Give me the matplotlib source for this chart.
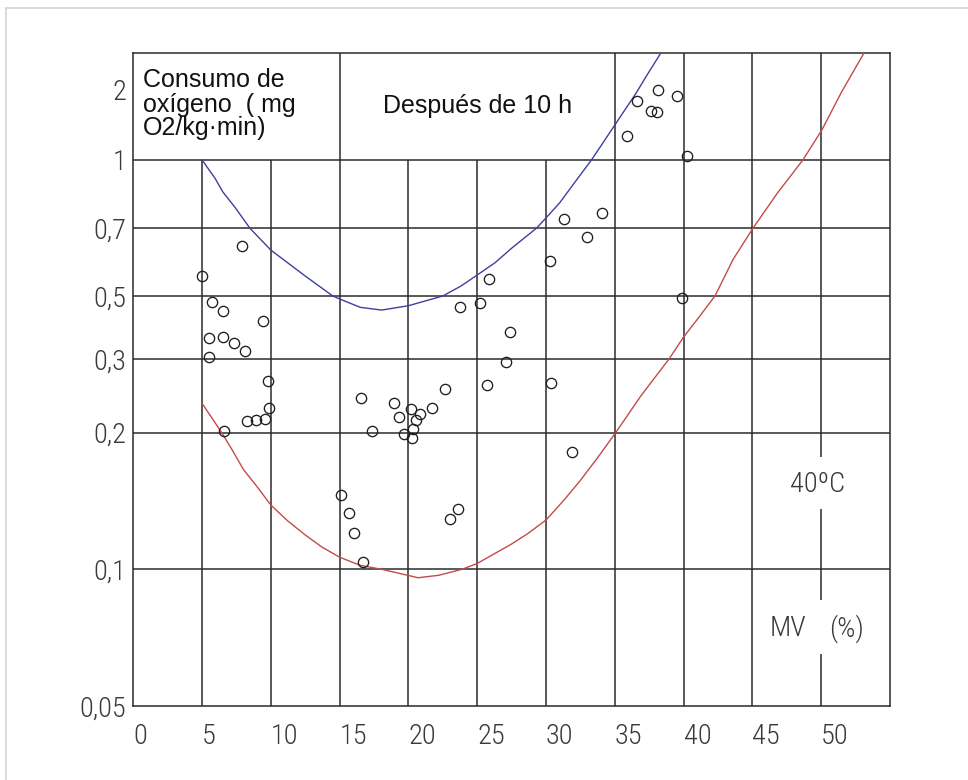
import numpy as np
import matplotlib
matplotlib.use("Agg")
import matplotlib.pyplot as plt
from matplotlib.lines import Line2D
from matplotlib.ticker import NullLocator

# ---- hand-drawn (non-uniform) log-like y scale of the original chart ----
Y_KNOTS = [0.05, 0.1, 0.2, 0.3, 0.5, 0.7, 1.0, 2.0, 2.88]
Y_KNOT_POS = [0, 136.7, 273.3, 347, 410, 477.7, 546, 616, 652.7]

# ---- data ----
x_ticks = [0, 5, 10, 15, 20, 25, 30, 35, 40, 45, 50]
x_ticklabels = ["0", "5", "10", "15", "20", "25", "30", "35", "40", "45", "50"]
y_ticks = [0.05, 0.1, 0.2, 0.3, 0.5, 0.7, 1, 2]
y_ticklabels = ["0,05", "0,1", "0,2", "0,3", "0,5", "0,7", "1", "2"]
h_grid = [0.1, 0.2, 0.3, 0.5, 0.7, 1.0]

blue_x = [5.0, 5.94, 6.5, 7.39, 8.48, 10.0, 12.5, 14.5, 15.0, 16.5, 18.05, 20.0,
          22.5, 23.8, 25.0, 26.3, 27.5, 29.3, 30.0, 31.0, 32.0, 33.3, 34.2, 35.0,
          36.5, 37.4, 38.3]
blue_y = [1.0, 0.909, 0.847, 0.781, 0.70, 0.628, 0.552, 0.50, 0.488, 0.456, 0.446,
          0.462, 0.50, 0.525, 0.555, 0.59, 0.634, 0.70, 0.739, 0.80, 0.882, 1.0,
          1.2, 1.414, 1.92, 2.35, 2.86]

red_x = [5.0, 6.43, 7.2, 8.0, 9.0, 10.0, 11.2, 12.5, 13.7, 15.0, 16.5, 18.05, 20.7,
         22.2, 23.9, 25.0, 27.5, 28.7, 30.0, 31.3, 32.5, 33.8, 35.06, 36.9, 38.94,
         40.0, 41.1, 42.28, 43.6, 45.04, 46.8, 48.67, 50.05, 51.5, 53.1]
red_y = [0.235, 0.2, 0.183, 0.166, 0.152, 0.1385, 0.128, 0.119, 0.112, 0.1063, 0.102,
         0.1, 0.0958, 0.097, 0.1, 0.103, 0.1137, 0.12, 0.1284, 0.142, 0.157, 0.177,
         0.2, 0.245, 0.3, 0.3585, 0.42, 0.5, 0.6, 0.7, 0.84, 1.0, 1.346, 1.97, 2.88]

pts_x = [7.92, 5.02, 5.70, 6.50, 9.45, 5.52, 6.54, 7.32, 8.10, 5.52, 9.79, 9.86,
         8.24, 8.92, 9.57, 6.59,
         16.57, 18.97, 20.18, 20.84, 21.69, 22.63, 19.33, 20.53, 20.35, 17.35, 19.65,
         20.26, 15.12, 15.66, 16.02, 16.67, 23.62, 23.04,
         23.75, 25.2, 25.85, 27.4, 27.11, 25.73, 30.29, 30.38, 31.91, 31.31, 34.09,
         32.98,
         35.91, 36.59, 38.16, 37.63, 38.09, 39.54, 40.22, 39.86]
pts_y = [0.641, 0.552, 0.4775, 0.4437, 0.4073, 0.3565, 0.3594, 0.3415, 0.3193, 0.304,
         0.266, 0.2287, 0.2133, 0.2145, 0.2157, 0.2019,
         0.2416, 0.2355, 0.2278, 0.2217, 0.2287, 0.2539, 0.2177, 0.2145, 0.2041,
         0.2019, 0.1986, 0.195, 0.1458, 0.1332, 0.12, 0.1036, 0.1358, 0.1293,
         0.4583, 0.4735, 0.543, 0.3742, 0.2951, 0.2595, 0.5959, 0.2628, 0.181, 0.7349,
         0.757, 0.6714,
         1.272, 1.799, 2.0, 1.62, 1.604, 1.885, 1.037, 0.493]

# ---- scale functions ----
LK = np.log10(np.array(Y_KNOTS))
PK = np.array(Y_KNOT_POS, float)
S0 = (PK[1] - PK[0]) / (LK[1] - LK[0])
S1 = (PK[-1] - PK[-2]) / (LK[-1] - LK[-2])


def fwd(v):
    lv = np.log10(np.clip(np.asarray(v, float), 1e-9, None))
    out = np.interp(lv, LK, PK)
    out = np.where(lv < LK[0], PK[0] + (lv - LK[0]) * S0, out)
    out = np.where(lv > LK[-1], PK[-1] + (lv - LK[-1]) * S1, out)
    return out


def inv(p):
    p = np.asarray(p, float)
    out = np.interp(p, PK, LK)
    out = np.where(p < PK[0], LK[0] + (p - PK[0]) / S0, out)
    out = np.where(p > PK[-1], LK[-1] + (p - PK[-1]) / S1, out)
    return 10 ** out


CAD = ["Roboto Condensed", "DejaVu Sans"]
CAD_KW = dict(family=CAD, fontsize=20.5, color="#3a3a3a", fontweight=300)
GRID_C = "#2b2b2b"
GRID_LW = 1.1

fig = plt.figure(figsize=(9.68, 7.8), dpi=100)
fig.patch.set_facecolor("white")
ax = fig.add_axes([0.1377, 0.0949, 0.7817, 0.8368])
ax.set_yscale("function", functions=(fwd, inv))
ax.set_xlim(0, 55)
ax.set_ylim(0.05, 2.88)

# grid
ax.hlines(h_grid, 0, 55, colors=GRID_C, lw=GRID_LW, zorder=1)
ax.vlines([5, 10, 20, 25, 30], 0.05, 1.0, colors=GRID_C, lw=GRID_LW, zorder=1)
ax.vlines([15, 35, 40, 45], 0.05, 2.88, colors=GRID_C, lw=GRID_LW, zorder=1)
ax.vlines([50, 50, 50], [0.05, 0.0856, 0.177], [0.0651, 0.1356, 2.88],
          colors=GRID_C, lw=GRID_LW, zorder=1)
for s in ax.spines.values():
    s.set_color(GRID_C)
    s.set_linewidth(GRID_LW)

# curves
ax.plot(blue_x, blue_y, color="#3f3f9e", lw=1.0, zorder=3)
ax.plot(red_x, red_y, color="#c24b4b", lw=1.0, zorder=3)

# points
ax.plot(pts_x, pts_y, linestyle="none", marker="o", ms=7.4, mfc="none",
        mec="#1e1e1e", mew=0.95, zorder=4)

# ticks
ax.set_xticks(x_ticks)
ax.set_xticklabels(x_ticklabels, ha="left", **CAD_KW)
ax.set_yticks(y_ticks)
ax.set_yticklabels(y_ticklabels, **CAD_KW)
ax.yaxis.set_minor_locator(NullLocator())
ax.xaxis.set_minor_locator(NullLocator())
ax.tick_params(axis="both", length=0)
ax.tick_params(axis="x", pad=12)
ax.tick_params(axis="y", pad=5)

# texts
title_kw = dict(transform=ax.transAxes, family=["Liberation Sans", "DejaVu Sans"],
                fontsize=18, color="#111111", va="baseline", ha="left")
ax.text(0.0128, 0.9479, "Consumo de", **title_kw)
ax.text(0.0128, 0.9105, "oxígeno  ( mg", **title_kw)
ax.text(0.0128, 0.8741, "O2/kg·min)", **title_kw)
ax.text(0.330, 0.908, "Después de 10 h", **title_kw)

ax.text(0.9042, 0.340, "40ºC", transform=ax.transAxes, ha="center", va="center", **CAD_KW)
ax.text(0.8410, 0.119, "MV", transform=ax.transAxes, ha="left", va="center", **CAD_KW)
ax.text(0.9190, 0.119, "(%)", transform=ax.transAxes, ha="left", va="center", **CAD_KW)

# light outer frame of the picture
fig.add_artist(Line2D([6 / 968, 6 / 968], [0, 1 - 8 / 780], transform=fig.transFigure,
                      color="#d6d6d6", lw=1.2))
fig.add_artist(Line2D([6 / 968, 1], [1 - 8 / 780, 1 - 8 / 780], transform=fig.transFigure,
                      color="#d6d6d6", lw=1.2))

fig.savefig("out.png", dpi=100)
